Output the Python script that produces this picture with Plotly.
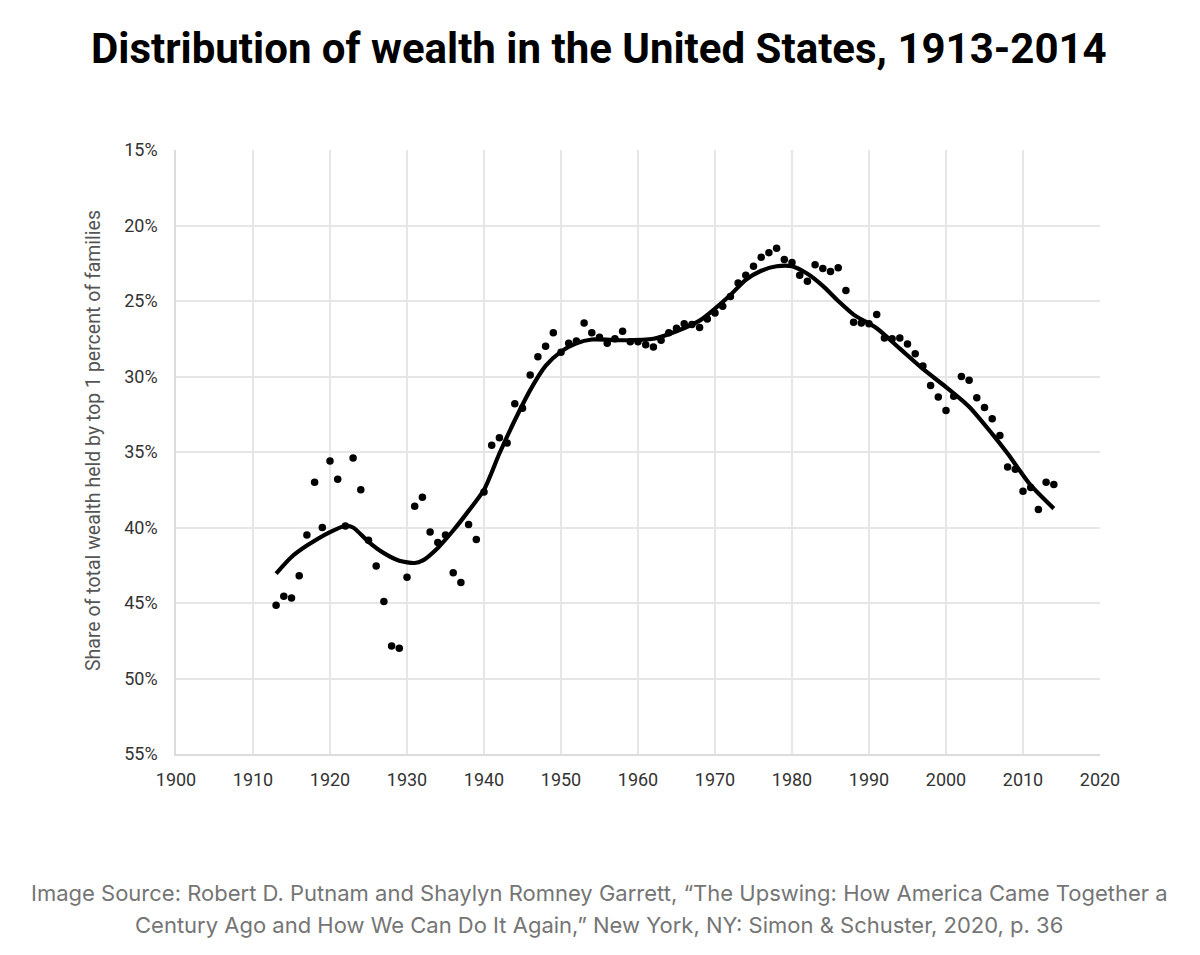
import plotly.graph_objects as go

# Scatter data: share of total wealth held by top 1% of families (%)
years = list(range(1913, 2015))
shares = [
    45.15, 44.56, 44.67, 43.2, 40.5, 37.0, 40.0, 35.6, 36.8, 39.9,   # 1913-1922
    35.4, 37.5, 40.85, 42.55, 44.9, 47.85, 48.0, 43.3, 38.6, 38.0,  # 1923-1932
    40.3, 41.0, 40.5, 43.0, 43.65, 39.8, 40.8, 37.65, 34.55, 34.05, # 1933-1942
    34.4, 31.8, 32.1, 29.9, 28.7, 28.0, 27.1, 28.4, 27.8, 27.65,    # 1943-1952
    26.45, 27.1, 27.4, 27.8, 27.5, 27.0, 27.7, 27.7, 27.9, 28.05,   # 1953-1962
    27.6, 27.1, 26.8, 26.5, 26.55, 26.75, 26.2, 25.8, 25.35, 24.7,  # 1963-1972
    23.8, 23.3, 22.7, 22.1, 21.8, 21.5, 22.25, 22.45, 23.3, 23.7,   # 1973-1982
    22.6, 22.85, 23.05, 22.8, 24.3, 26.4, 26.45, 26.5, 25.9, 27.45, # 1983-1992
    27.5, 27.45, 27.85, 28.5, 29.3, 30.6, 31.35, 32.25, 31.3, 30.0, # 1993-2002
    30.25, 31.4, 32.05, 32.8, 33.9, 36.0, 36.15, 37.6, 37.35, 38.8, # 2003-2012
    37.0, 37.15,                                                     # 2013-2014
]

# Smoothed trend line
trend_years = [1913, 1915, 1917, 1920, 1922, 1923, 1925, 1927, 1929, 1931,
               1932, 1934, 1936, 1938, 1940, 1942, 1944, 1946, 1948, 1950,
               1952, 1954, 1958, 1962, 1965, 1968, 1970, 1972, 1974, 1976,
               1978, 1980, 1982, 1984, 1986, 1988, 1991, 1994, 1997, 2000,
               2003, 2006, 2008, 2011, 2014]
trend_vals = [43.05, 41.95, 41.2, 40.3, 39.9, 40.0, 40.95, 41.7, 42.2, 42.35,
              42.2, 41.35, 40.2, 38.9, 37.5, 35.1, 32.9, 30.9, 29.3, 28.35,
              27.8, 27.55, 27.6, 27.5, 27.0, 26.3, 25.5, 24.6, 23.6, 23.0,
              22.7, 22.7, 23.2, 24.0, 25.0, 25.9, 26.8, 28.15, 29.5, 30.7,
              32.0, 33.8, 35.1, 37.2, 38.75]

x_ticks = [1900, 1910, 1920, 1930, 1940, 1950, 1960, 1970, 1980, 1990, 2000, 2010, 2020]
y_ticks = [15, 20, 25, 30, 35, 40, 45, 50, 55]
y_tick_text = [f"{v}%" for v in y_ticks]

title_text = "Distribution of wealth in the United States, 1913-2014"
y_title = "Share of total wealth held by top 1 percent of families"
source_line1 = "Image Source: Robert D. Putnam and Shaylyn Romney Garrett, \u201cThe Upswing: How America Came Together a"
source_line2 = "Century Ago and How We Can Do It Again,\u201d New York, NY: Simon &amp; Schuster, 2020, p. 36"

FONT = "Roboto, Liberation Sans, sans-serif"

# page body has an 8px margin; figure sized so plot area lands at x 176-1100, y 150-754 on screen
W, H = 1184, 939
L, T = 168, 142
PW = 924
CX = (591 - L) / PW  # title / source centre in paper coords

fig = go.Figure()
fig.add_trace(go.Scatter(
    x=years, y=shares, mode="markers",
    marker=dict(color="black", size=7.5),
    showlegend=False,
))
fig.add_trace(go.Scatter(
    x=trend_years, y=trend_vals, mode="lines",
    line=dict(color="black", width=4.2, shape="spline", smoothing=0.7),
    showlegend=False,
))

fig.update_layout(
    width=W, height=H,
    margin=dict(l=L, r=W - L - PW, t=T, b=H - T - 604),
    paper_bgcolor="white", plot_bgcolor="white",
    xaxis=dict(
        range=[1900, 2020], tickvals=x_ticks, ticktext=[str(t) for t in x_ticks],
        showgrid=True, gridcolor="#e6e6e6", gridwidth=1.5,
        zeroline=False, showline=True, linecolor="#dcdcdc", linewidth=1.5,
        ticks="", tickfont=dict(family=FONT, size=18, color="#333333"),
        ticklabelstandoff=9,
    ),
    yaxis=dict(
        range=[55, 15], tickvals=y_ticks, ticktext=y_tick_text,
        showgrid=True, gridcolor="#e6e6e6", gridwidth=1.5,
        zeroline=False, showline=True, linecolor="#dcdcdc", linewidth=1.5,
        ticks="", tickfont=dict(family=FONT, size=18, color="#333333"),
        ticklabelstandoff=13,
    ),
    annotations=[
        dict(text=title_text, x=CX, y=1.0, xref="paper", yref="paper", showarrow=False,
             yanchor="middle", yshift=150 - 48,
             font=dict(family=FONT, size=42, color="black", weight="bold")),
        dict(text=y_title, x=0.0, y=0.5, xref="paper", yref="paper", showarrow=False,
             xanchor="center", yanchor="middle", xshift=93 - 176, yshift=11, textangle=-90,
             font=dict(family=FONT, size=19.5, color="#555555")),
        dict(text=source_line1, x=CX, y=0.0, xref="paper", yref="paper", showarrow=False,
             yanchor="middle", yshift=-(893 - 754),
             font=dict(family="Inter, Noto Sans, sans-serif", size=22, color="#757575")),
        dict(text=source_line2, x=CX, y=0.0, xref="paper", yref="paper", showarrow=False,
             yanchor="middle", yshift=-(925 - 754),
             font=dict(family="Inter, Noto Sans, sans-serif", size=22, color="#757575")),
    ],
)

fig.write_html("out.html")
